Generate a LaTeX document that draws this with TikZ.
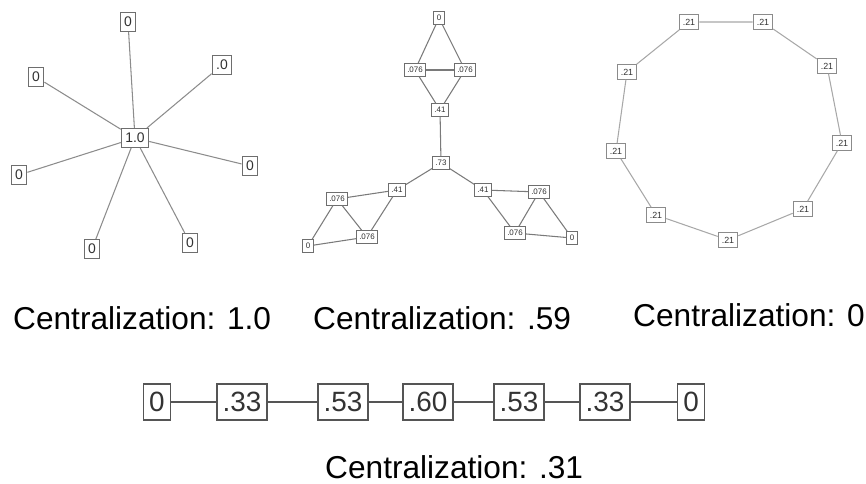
\documentclass[tikz,border=0pt]{standalone}
\usepackage{fontspec}
\setmainfont{Liberation Sans}
\definecolor{boxLine}{HTML}{6E6E6E}
\definecolor{boxText}{HTML}{333333}
\definecolor{edgeStar}{HTML}{8C8C8C}
\definecolor{edgeMid}{HTML}{7A7A7A}
\definecolor{edgeRing}{HTML}{A8A8A8}
\definecolor{chainLine}{HTML}{555555}

\begin{document}
\begin{tikzpicture}[
  x=0.03cm, y=-0.03cm,
  starbox/.style={
    rectangle,
    draw=boxLine,
    fill=white,
    line width=0.9pt,
    text=boxText,
    inner xsep=0.12cm,
    inner ysep=0pt,
    minimum height=0.57cm,
    font=\fontsize{11.9}{12}\selectfont
  },
  tinybox/.style={
    rectangle,
    draw=boxLine,
    fill=white,
    line width=0.7pt,
    text=boxText,
    inner xsep=0.09cm,
    inner ysep=0pt,
    minimum height=0.38cm,
    font=\fontsize{6.8}{7}\selectfont
  },
  ringbox/.style={
    rectangle,
    draw=boxLine!80,
    fill=white,
    line width=0.7pt,
    text=boxText,
    inner xsep=0.11cm,
    inner ysep=0pt,
    minimum height=0.44cm,
    font=\fontsize{7.6}{8}\selectfont
  },
  chainbox/.style={
    rectangle,
    draw=chainLine,
    fill=white,
    line width=1.4pt,
    text=boxText,
    inner xsep=0.17cm,
    inner ysep=0pt,
    minimum height=1.08cm,
    font=\fontsize{23.8}{24}\selectfont
  },
  caption/.style={
    anchor=base west,
    inner sep=0pt,
    text=black,
    font=\fontsize{27}{28}\selectfont
  },
  lnStar/.style={edgeStar, line width=0.9pt},
  lnMid/.style={edgeMid, line width=0.9pt},
  lnRing/.style={edgeRing, line width=0.9pt},
  lnChain/.style={chainLine, line width=1.3pt}
]

  \useasboundingbox (0,0) rectangle (866,484);

  % star
  \node[starbox] (S0) at (135,138) {1.0};
  \node[starbox] (S1) at (128,22) {0};
  \node[starbox] (S2) at (222,65) {.0};
  \node[starbox] (S3) at (36,77) {0};
  \node[starbox] (S4) at (250,166) {0};
  \node[starbox] (S5) at (19,175) {0};
  \node[starbox] (S6) at (92,249) {0};
  \node[starbox] (S7) at (190,243) {0};

  % three cliques round a middle node
  \node[tinybox] (M1) at (439,18) {0};
  \node[tinybox] (M2) at (415,70) {.076};
  \node[tinybox] (M3) at (465,70) {.076};
  \node[tinybox] (M4) at (440,110) {.41};
  \node[tinybox] (M0) at (441,163) {.73};
  \node[tinybox] (L1) at (397,190) {.41};
  \node[tinybox] (L2) at (337,199) {.076};
  \node[tinybox] (L3) at (367,237) {.076};
  \node[tinybox] (L4) at (308,246) {0};
  \node[tinybox] (R1) at (483,190) {.41};
  \node[tinybox] (R2) at (539,192) {.076};
  \node[tinybox] (R3) at (515,233) {.076};
  \node[tinybox] (R4) at (572,238) {0};

  % ring
  \node[ringbox] (C1) at (689,22) {.21};
  \node[ringbox] (C2) at (763,22) {.21};
  \node[ringbox] (C3) at (827,66) {.21};
  \node[ringbox] (C4) at (842,143) {.21};
  \node[ringbox] (C5) at (803,209) {.21};
  \node[ringbox] (C6) at (728,240) {.21};
  \node[ringbox] (C7) at (656,215) {.21};
  \node[ringbox] (C8) at (616,151) {.21};
  \node[ringbox] (C9) at (627,72) {.21};

  % line
  \node[chainbox] (P1) at (157,402) {0};
  \node[chainbox] (P2) at (242,402) {.33};
  \node[chainbox] (P3) at (343,402) {.53};
  \node[chainbox] (P4) at (428,402) {.60};
  \node[chainbox] (P5) at (519,402) {.53};
  \node[chainbox] (P6) at (605,402) {.33};
  \node[chainbox] (P7) at (691,402) {0};

  \node[caption] (T1) at (13,329) {Centralization: 1.0};
  \node[caption] (T2) at (313,329) {Centralization: .59};
  \node[caption] (T3) at (633,327) {Centralization: 0};
  \node[caption] (T4) at (325,478) {Centralization: .31};

  \foreach \n in {1,...,7} {
    \draw[lnStar] (S0) -- (S\n);
  }

  \draw[lnMid] (M1) -- (M2);
  \draw[lnMid] (M1) -- (M3);
  \draw[lnMid] (M2) -- (M3);
  \draw[lnMid] (M2) -- (M4);
  \draw[lnMid] (M3) -- (M4);
  \draw[lnMid] (M4) -- (M0);
  \draw[lnMid] (M0) -- (L1);
  \draw[lnMid] (M0) -- (R1);
  \draw[lnMid] (L1) -- (L2);
  \draw[lnMid] (L1) -- (L3);
  \draw[lnMid] (L2) -- (L3);
  \draw[lnMid] (L2) -- (L4);
  \draw[lnMid] (L3) -- (L4);
  \draw[lnMid] (R1) -- (R2);
  \draw[lnMid] (R1) -- (R3);
  \draw[lnMid] (R2) -- (R3);
  \draw[lnMid] (R2) -- (R4);
  \draw[lnMid] (R3) -- (R4);

  \draw[lnRing] (C1) -- (C2) -- (C3) -- (C4) -- (C5) -- (C6) -- (C7) -- (C8) -- (C9) -- (C1);

  \draw[lnChain] (P1) -- (P2) -- (P3) -- (P4) -- (P5) -- (P6) -- (P7);

\end{tikzpicture}
\end{document}
